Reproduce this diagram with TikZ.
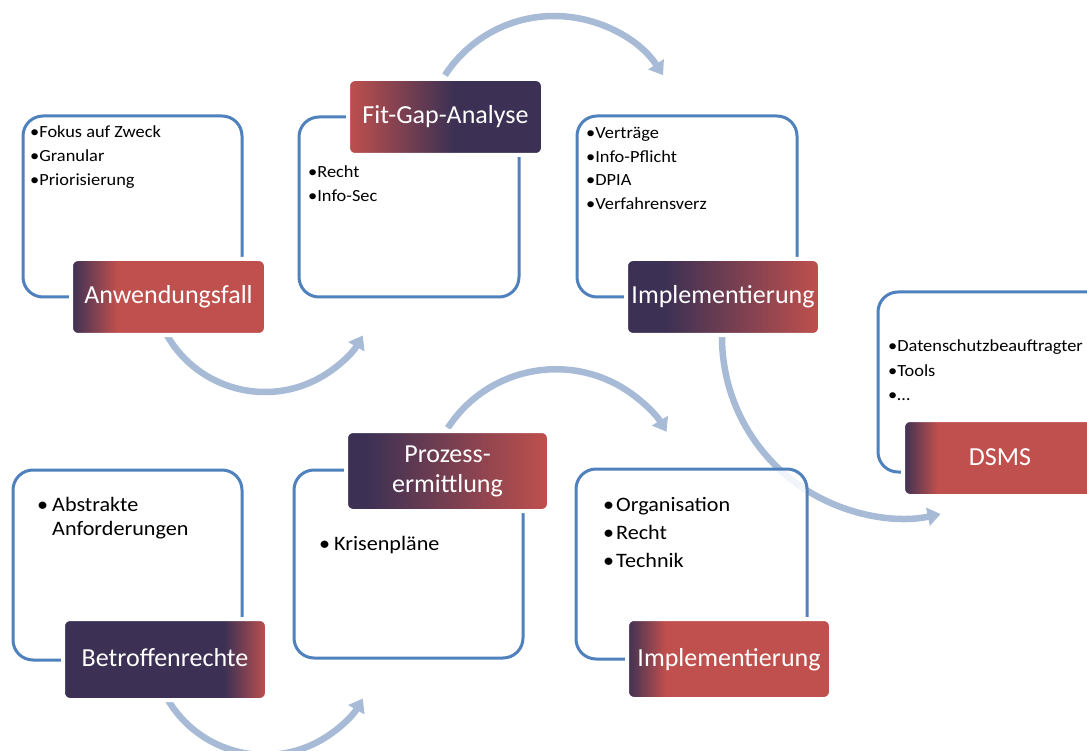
\documentclass[tikz,border=0pt]{standalone}
\usepackage{fontspec}
\setmainfont{Carlito}[FakeStretch=1.08]
\newfontfamily\labfont{Carlito}
\usetikzlibrary{arrows.meta}
\definecolor{dk}{RGB}{60,49,84}
\definecolor{rd}{RGB}{192,80,77}
\definecolor{ol}{RGB}{79,129,189}
\definecolor{fl}{RGB}{167,187,215}
\pgfdeclarehorizontalshading{gA}{100bp}{color(0bp)=(dk); color(25bp)=(dk); color(37bp)=(rd); color(100bp)=(rd)}
\pgfdeclarehorizontalshading{gB}{100bp}{color(0bp)=(rd); color(25bp)=(rd); color(52bp)=(dk); color(100bp)=(dk)}
\pgfdeclarehorizontalshading{gC}{100bp}{color(0bp)=(dk); color(25bp)=(dk); color(35bp)=(dk); color(75bp)=(rd); color(100bp)=(rd)}
\pgfdeclarehorizontalshading{gD}{100bp}{color(0bp)=(dk); color(25bp)=(dk); color(34bp)=(rd); color(100bp)=(rd)}
\pgfdeclarehorizontalshading{gE}{100bp}{color(0bp)=(dk); color(25bp)=(dk); color(64.5bp)=(dk); color(75bp)=(rd); color(100bp)=(rd)}
\pgfdeclarehorizontalshading{gF}{100bp}{color(0bp)=(dk); color(25bp)=(dk); color(30bp)=(dk); color(75bp)=(rd); color(100bp)=(rd)}
\pgfdeclarehorizontalshading{gG}{100bp}{color(0bp)=(dk); color(25bp)=(dk); color(34.5bp)=(rd); color(100bp)=(rd)}
\tikzset{
  obox/.style={draw=ol, line width=3pt, rounded corners=20pt, fill=white, fill opacity=0.85, inner sep=0pt},
  lab/.style={draw=white, line width=4pt, rounded corners=7pt, text=white, inner sep=0pt,
    font=\labfont\fontsize{26}{30}\selectfont, text height=19pt, text depth=5pt},
  flowarc/.style={draw=fl, line width=6.5pt, -{Triangle[width=18pt,length=13pt]}},
  txs/.style={anchor=base west, inner sep=0pt, font=\fontsize{17}{20}\selectfont},
  txl/.style={anchor=base west, inner sep=0pt, font=\fontsize{20.5}{24}\selectfont},
}
\begin{document}
\begin{tikzpicture}[x=1pt,y=-1pt]
\useasboundingbox (0,0) rectangle (1087,751);
\clip (0,0) rectangle (1087,751);

% connector arcs (drawn first, behind the boxes)
\coordinate (a1s) at (167.1,335.5);
\coordinate (a2s) at (445,75.2);
\coordinate (a3s) at (722,337);
\coordinate (a4s) at (447.8,428);
\coordinate (a5s) at (167.1,698.5);
\draw[flowarc] (a1s) arc[start angle=150, end angle=30, radius=113];
\draw[flowarc] (a2s) arc[start angle=213, end angle=327, radius=130];
\draw[flowarc] (a3s) arc[start angle=180, end angle=78, radius=181];
\draw[flowarc] (a4s) arc[start angle=213, end angle=329, radius=129];
\draw[flowarc] (a5s) arc[start angle=150, end angle=30, radius=113];

% outline boxes
\node[obox, minimum width=219pt, minimum height=181pt] (bA) at (132.5,206.5) {};
\node[obox, minimum width=220pt, minimum height=180pt] (bB) at (409,207) {};
\node[obox, minimum width=220pt, minimum height=181pt] (bC) at (687,206.5) {};
\node[obox, minimum width=232pt, minimum height=180pt] (bD) at (994,382) {};
\node[obox, minimum width=229pt, minimum height=190pt] (bE) at (127.5,565) {};
\node[obox, minimum width=229pt, minimum height=188pt] (bF) at (408.5,564) {};
\node[obox, minimum width=231pt, minimum height=190pt] (bG) at (691.5,564) {};

% labels
\node[lab, shading=gA, minimum width=195pt, minimum height=76pt] (lA) at (168.5,297) {Anwendungsfall};
\node[lab, shading=gB, minimum width=195pt, minimum height=76pt] (lB) at (445.5,117) {Fit-Gap-Analyse};
\node[lab, shading=gC, minimum width=194pt, minimum height=76pt] (lC) at (723,297) {Implementierung};
\node[lab, shading=gD, minimum width=194pt, minimum height=76pt] (lD) at (1000,458) {DSMS};
\node[lab, shading=gE, minimum width=204pt, minimum height=81pt] (lE) at (165,659.5) {Betroffenrechte};
\node[lab, shading=gF, minimum width=203pt, minimum height=80pt, align=center, text height=, text depth=] (lF) at (447.5,471) {Prozess-\\ermittlung};
\node[lab, shading=gG, minimum width=204pt, minimum height=80pt] (lG) at (729,659) {Implementierung};

% box texts
\node[txs] (tA1) at (30,138) {•Fokus auf Zweck};
\node[txs] (tA2) at (30,162) {•Granular};
\node[txs] (tA3) at (30,186) {•Priorisierung};

\node[txs] (tB1) at (308,178) {•Recht};
\node[txs] (tB2) at (308,202) {•Info-Sec};

\node[txs] (tC1) at (586,139) {•Verträge};
\node[txs] (tC2) at (586,163) {•Info-Pflicht};
\node[txs] (tC3) at (586,186) {•DPIA};
\node[txs] (tC4) at (586,210) {•Verfahrensverz};

\node[txs] (tD1) at (888,352) {•Datenschutzbeauftragter};
\node[txs] (tD2) at (888,376) {•Tools};
\node[txs] (tD3) at (888,400) {•…};

\node[txl] (tE1) at (37,511) {\makebox[15pt][l]{•}Abstrakte};
\node[txl] (tE2) at (52,535) {Anforderungen};

\node[txl] (tF1) at (319,550) {\makebox[15pt][l]{•}Krisenpläne};

\node[txl] (tG1) at (603,511) {\makebox[13pt][l]{•}Organisation};
\node[txl] (tG2) at (603,539) {\makebox[13pt][l]{•}Recht};
\node[txl] (tG3) at (603,567) {\makebox[13pt][l]{•}Technik};
\end{tikzpicture}
\end{document}
